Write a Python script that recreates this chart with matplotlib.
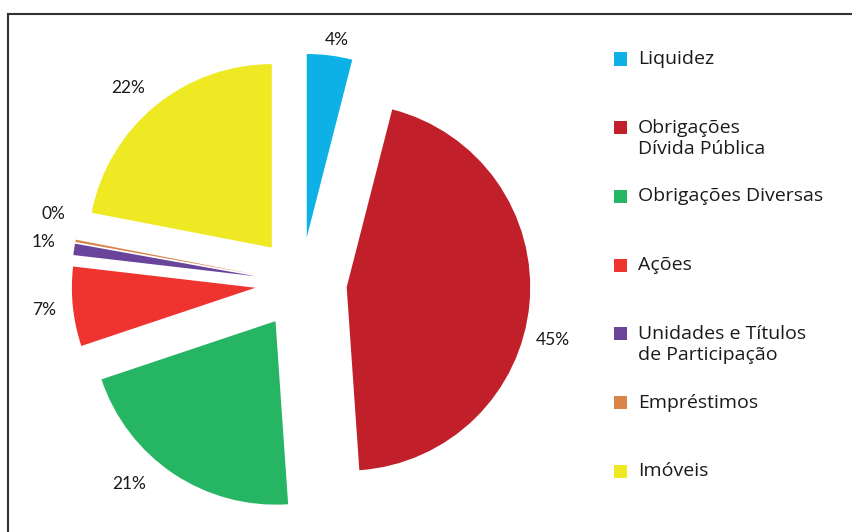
import numpy as np
import matplotlib
matplotlib.use("Agg")
import matplotlib.pyplot as plt
from matplotlib.patches import Rectangle
from matplotlib.lines import Line2D

# ------------------------------------------------------------------ #
# Data
# ------------------------------------------------------------------ #
categories = [
    "Liquidez",
    "Obrigações\nDívida Pública",
    "Obrigações Diversas",
    "Ações",
    "Unidades e Títulos\nde Participação",
    "Empréstimos",
    "Imóveis",
]
shares = [4, 45, 21, 7, 1, 0.2, 22]
pct_labels = ["4%", "45%", "21%", "7%", "1%", "0%", "22%"]
colors = ["#0db1e6", "#c1202a", "#26b562", "#ef3430", "#6a449b", "#d9854a", "#efe924"]

plt.rcParams["font.family"] = ["Lato", "DejaVu Sans"]

W, H = 852, 532
fig = plt.figure(figsize=(W / 100, H / 100), dpi=100)
ax = fig.add_axes([0, 0, 1, 1])

# pie centre / radius in pixels
cx, cy, rad = 301, 283, 183.5

wedges, _ = ax.pie(
    shares, colors=colors, startangle=90, counterclock=False,
    explode=[0.25] * len(shares), radius=1.0,
    wedgeprops=dict(linewidth=0),
)
ax.set_xlim(-cx / rad, (W - cx) / rad)
ax.set_ylim(-(H - cy) / rad, cy / rad)
ax.set_aspect("auto")
ax.axis("off")

# percentage labels (distance from pie centre, small angular nudges)
lab_dist = [1.34, 1.41, 1.44, 1.41, 1.42, 1.40, 1.42]
lab_shift = [-1.2, -7.6, -6.8, 0.0, -0.5, -5.0, 2.0]
for w, txt, d, s in zip(wedges, pct_labels, lab_dist, lab_shift):
    mid = np.deg2rad((w.theta1 + w.theta2) / 2 + s)
    ax.text(d * np.cos(mid), d * np.sin(mid), txt, ha="center", va="center",
            fontsize=12.5, color="#1a1a1a")

# legend drawn by hand: handles evenly spaced, text aligned with first line
y0, step, line_h = 59, 68.7, 21
for i, (lab, col) in enumerate(zip(categories, colors)):
    yc = y0 + i * step
    fig.add_artist(Rectangle((614 / W, 1 - (yc + 6.5) / H), 13 / W, 13 / H,
                             transform=fig.transFigure, color=col, lw=0))
    for j, line in enumerate(lab.split("\n")):
        fig.text(638 / W, 1 - (yc + j * line_h) / H, line, ha="left",
                 va="center", fontsize=14, color="#1a1a1a",
                 family=["Open Sans", "DejaVu Sans"])

# frame: top and left edges only
fig.add_artist(Line2D([7.5 / W, 1], [1 - 13.5 / H, 1 - 13.5 / H],
                      transform=fig.transFigure, color="#333333", lw=1.5))
fig.add_artist(Line2D([7.5 / W, 7.5 / W], [1 - 13.5 / H, 0],
                      transform=fig.transFigure, color="#333333", lw=1.5))

fig.savefig("out.png", dpi=100)
